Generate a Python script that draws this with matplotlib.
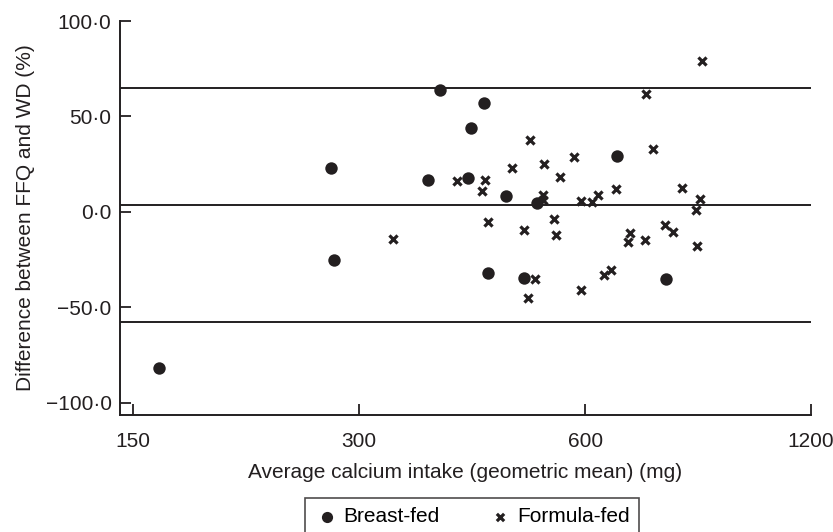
import matplotlib
matplotlib.use("Agg")
import matplotlib.pyplot as plt
from matplotlib.ticker import FuncFormatter, NullLocator

# ========== data ==========
# breast-fed infants: average intake (mg), difference FFQ - WD (%)
breast_x = [162.5, 275.4, 278.0, 370.3, 384.9, 439.8, 423.3, 419.1, 470.0,
            518.4, 662.0, 445.2, 496.7, 768.5]
breast_y = [-81.8, 23.1, -25.4, 16.8, 64.0, 56.9, 43.8, 17.8, 8.5,
            4.5, 29.4, -32.0, -34.6, -34.9]

# formula-fed infants
formula_x = [332.6, 857.7, 722.3, 507.4, 738.0, 580.8, 479.3, 529.2, 556.3,
             404.8, 441.9, 437.9, 526.7, 528.0, 592.9, 613.2, 624.6, 659.4,
             807.6, 852.4, 843.9, 445.6, 497.7, 545.4, 548.3, 688.0, 683.9,
             720.0, 766.8, 785.5, 845.1, 515.1, 503.9, 592.0, 635.5, 649.4]
formula_y = [-14.2, 79.3, 61.7, 37.9, 32.8, 28.8, 23.1, 25.0, 18.4,
             16.4, 16.6, 11.2, 9.1, 6.4, 5.9, 5.4, 8.9, 12.2,
             12.7, 7.0, 1.2, -5.3, -9.3, -3.7, -12.1, -11.1, -15.7,
             -14.6, -6.8, -10.5, -17.7, -35.3, -45.0, -40.8, -33.0, -30.6]

# mean difference and limits of agreement
mean_diff = 3.4
loa_upper = 64.7
loa_lower = -57.9

x_ticks = [150, 300, 600, 1200]
y_ticks = [-100, -50, 0, 50, 100]

plt.rcParams['font.family'] = ['Liberation Sans', 'DejaVu Sans']
ink = "#231f20"
fs = 15

fig = plt.figure(figsize=(8.33, 5.32), dpi=100)
ax = fig.add_axes([0.144, 0.2199, 0.8296, 0.7406])

# Bland-Altman lines
for yv in [loa_upper, mean_diff, loa_lower]:
    ax.axhline(yv, color=ink, lw=1.4, zorder=1)

ax.scatter(breast_x, breast_y, s=80, marker='o', color=ink,
           linewidths=0, label="Breast-fed", zorder=3)
ax.scatter(formula_x, formula_y, s=34, marker='x', color=ink,
           linewidths=2.3, label="Formula-fed", zorder=3)

# log scale on x
ax.set_xscale('log')
ax.set_xlim(144.0, 1200)
ax.set_xticks(x_ticks)
ax.set_xticklabels([str(v) for v in x_ticks])
ax.xaxis.set_minor_locator(NullLocator())

ax.set_ylim(-106.4, 100)
ax.set_yticks(y_ticks)


def dot_fmt(v, pos):
    s = "%.1f" % abs(v)
    s = s.replace(".", "\u00b7")
    if v < 0:
        s = "\u2212" + s
    return s


ax.yaxis.set_major_formatter(FuncFormatter(dot_fmt))

for side in ['top', 'right']:
    ax.spines[side].set_visible(False)
for side in ['left', 'bottom']:
    ax.spines[side].set_linewidth(1.4)
    ax.spines[side].set_color(ink)

ax.tick_params(axis='both', direction='in', length=8, width=1.3,
               colors=ink, labelsize=fs, labelcolor=ink)
ax.tick_params(axis='x', pad=12)
ax.tick_params(axis='y', pad=6)

ax.set_xlabel("Average calcium intake (geometric mean) (mg)", fontsize=fs,
              color=ink, labelpad=9)
ax.set_ylabel("Difference between FFQ and WD (%)", fontsize=fs,
              color=ink, labelpad=8)

# legend box sits at the bottom, partly cut off by the figure edge
leg = fig.legend(loc='upper center', bbox_to_anchor=(472 / 833, 1 - 498 / 532),
                 ncol=2, fontsize=fs, frameon=True, fancybox=False,
                 markerscale=0.9, handletextpad=0.2, columnspacing=2.3,
                 borderpad=0.45, handlelength=1.2, borderaxespad=0)
leg.get_frame().set_edgecolor(ink)
leg.get_frame().set_linewidth(1.2)

fig.savefig("out.png", dpi=100)
